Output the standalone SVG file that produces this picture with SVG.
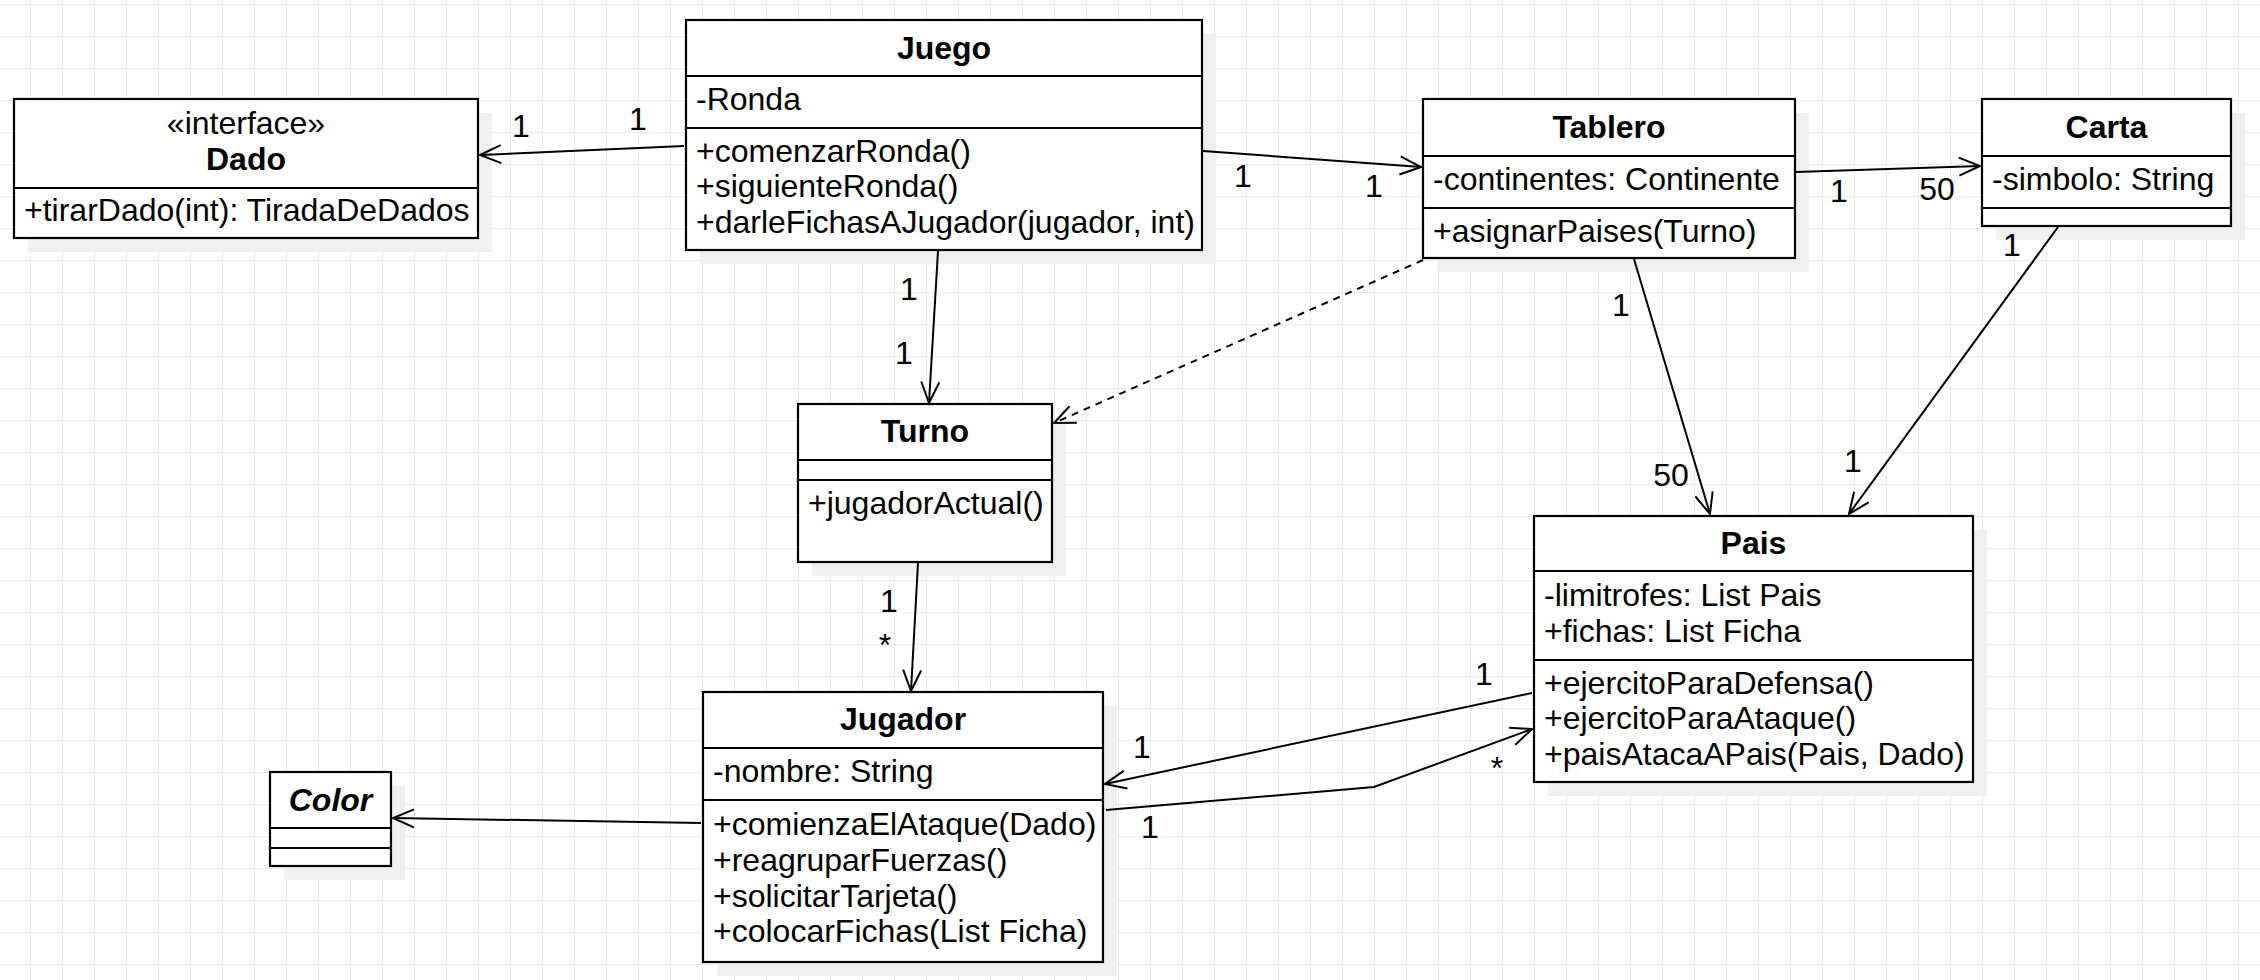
<svg xmlns="http://www.w3.org/2000/svg" width="2260" height="980" viewBox="0 0 2260 980">
<defs>
<pattern id="grid" patternUnits="userSpaceOnUse" x="30" y="4" width="32" height="32">
<path d="M0 0.5 H32 M0.5 0 V32" fill="none" stroke="#ebebeb" stroke-width="1"/>
</pattern>
<marker id="open" markerUnits="userSpaceOnUse" markerWidth="30" markerHeight="30" viewBox="-25 -15 30 30" refX="0" refY="0" orient="auto" overflow="visible">
<path d="M-21,-9 L0,0 L-21,9" fill="none" stroke="#000" stroke-width="2"/>
</marker>
</defs>
<style>
.t{font-family:"Liberation Sans",Arial,Helvetica,sans-serif;font-size:32px;fill:#000}
.b{font-weight:bold}
.i{font-style:italic}
.c{text-anchor:middle}
.box{fill:#fff;stroke:#000;stroke-width:2.2}
.sh{fill:#efefef;stroke:none}
.sep{stroke:#000;stroke-width:2.2}
.edge{fill:none;stroke:#000;stroke-width:2}
.dash{stroke-dasharray:7 6}
</style>
<rect x="0" y="0" width="2260" height="980" fill="#fff"/>
<rect x="0" y="0" width="2260" height="980" fill="url(#grid)"/>

<g id="Dado">
<rect class="sh" x="28" y="113" width="464" height="139"/>
<rect class="box" x="14" y="99" width="464" height="139"/>
<line class="sep" x1="14" y1="188" x2="478" y2="188"/>
<text class="t c" x="246" y="134">«interface»</text>
<text class="t b c" x="246" y="170">Dado</text>
<text class="t" x="24" y="221">+tirarDado(int): TiradaDeDados</text>
</g>

<g id="Juego">
<rect class="sh" x="700" y="34" width="516" height="230"/>
<rect class="box" x="686" y="20" width="516" height="230"/>
<line class="sep" x1="686" y1="76" x2="1202" y2="76"/>
<line class="sep" x1="686" y1="128" x2="1202" y2="128"/>
<text class="t b c" x="944" y="59">Juego</text>
<text class="t" x="696" y="110">-Ronda</text>
<text class="t" x="696" y="162">+comenzarRonda()</text>
<text class="t" x="696" y="197">+siguienteRonda()</text>
<text class="t" x="696" y="233">+darleFichasAJugador(jugador, int)</text>
</g>

<g id="Tablero">
<rect class="sh" x="1437" y="113" width="372" height="159"/>
<rect class="box" x="1423" y="99" width="372" height="159"/>
<line class="sep" x1="1423" y1="156" x2="1795" y2="156"/>
<line class="sep" x1="1423" y1="208" x2="1795" y2="208"/>
<text class="t b c" x="1609" y="138">Tablero</text>
<text class="t" x="1433" y="190">-continentes: Continente</text>
<text class="t" x="1433" y="242">+asignarPaises(Turno)</text>
</g>

<g id="Carta">
<rect class="sh" x="1996" y="113" width="249" height="127"/>
<rect class="box" x="1982" y="99" width="249" height="127"/>
<line class="sep" x1="1982" y1="156" x2="2231" y2="156"/>
<line class="sep" x1="1982" y1="208" x2="2231" y2="208"/>
<text class="t b c" x="2106.5" y="138">Carta</text>
<text class="t" x="1992" y="190">-simbolo: String</text>
</g>

<g id="Turno">
<rect class="sh" x="812" y="418" width="254" height="158"/>
<rect class="box" x="798" y="404" width="254" height="158"/>
<line class="sep" x1="798" y1="460" x2="1052" y2="460"/>
<line class="sep" x1="798" y1="480" x2="1052" y2="480"/>
<text class="t b c" x="925" y="442">Turno</text>
<text class="t" x="808" y="514">+jugadorActual()</text>
</g>

<g id="Pais">
<rect class="sh" x="1548" y="530" width="439" height="266"/>
<rect class="box" x="1534" y="516" width="439" height="266"/>
<line class="sep" x1="1534" y1="571" x2="1973" y2="571"/>
<line class="sep" x1="1534" y1="660" x2="1973" y2="660"/>
<text class="t b c" x="1753.5" y="554">Pais</text>
<text class="t" x="1544" y="606">-limitrofes: List Pais</text>
<text class="t" x="1544" y="642">+fichas: List Ficha</text>
<text class="t" x="1544" y="694">+ejercitoParaDefensa()</text>
<text class="t" x="1544" y="729">+ejercitoParaAtaque()</text>
<text class="t" x="1544" y="765">+paisAtacaAPais(Pais, Dado)</text>
</g>

<g id="Jugador">
<rect class="sh" x="717" y="706" width="400" height="270"/>
<rect class="box" x="703" y="692" width="400" height="270"/>
<line class="sep" x1="703" y1="748" x2="1103" y2="748"/>
<line class="sep" x1="703" y1="800" x2="1103" y2="800"/>
<text class="t b c" x="903" y="730">Jugador</text>
<text class="t" x="713" y="782">-nombre: String</text>
<text class="t" x="713" y="835">+comienzaElAtaque(Dado)</text>
<text class="t" x="713" y="871">+reagruparFuerzas()</text>
<text class="t" x="713" y="907">+solicitarTarjeta()</text>
<text class="t" x="713" y="942">+colocarFichas(List Ficha)</text>
</g>

<g id="Color">
<rect class="sh" x="284" y="786" width="121" height="94"/>
<rect class="box" x="270" y="772" width="121" height="94"/>
<line class="sep" x1="270" y1="828" x2="391" y2="828"/>
<line class="sep" x1="270" y1="848" x2="391" y2="848"/>
<text class="t b i c" x="330.5" y="811">Color</text>
</g>

<g id="connectors">
<path class="edge" d="M684 146 L480 155" marker-end="url(#open)"/>
<text class="t c" x="521" y="137">1</text>
<text class="t c" x="638" y="130">1</text>

<path class="edge" d="M1203 151 L1421 167" marker-end="url(#open)"/>
<text class="t c" x="1243" y="187">1</text>
<text class="t c" x="1374" y="197">1</text>

<path class="edge" d="M1796 172 L1980 166" marker-end="url(#open)"/>
<text class="t c" x="1839" y="202">1</text>
<text class="t c" x="1937" y="200">50</text>

<path class="edge" d="M938 251 L929 403" marker-end="url(#open)"/>
<text class="t c" x="909" y="300">1</text>
<text class="t c" x="904" y="364">1</text>

<path class="edge dash" d="M1423 260 L1054 423" marker-end="url(#open)"/>

<path class="edge" d="M918 563 L911 691" marker-end="url(#open)"/>
<text class="t c" x="889" y="612">1</text>
<text class="t c" x="885" y="656">*</text>

<path class="edge" d="M1634 259 L1710 514" marker-end="url(#open)"/>
<text class="t c" x="1621" y="316">1</text>
<text class="t c" x="1671" y="486">50</text>

<path class="edge" d="M2058 227 L1849 514" marker-end="url(#open)"/>
<text class="t c" x="2012" y="256">1</text>
<text class="t c" x="1853" y="472">1</text>

<path class="edge" d="M1532 693 L1105 784" marker-end="url(#open)"/>
<text class="t c" x="1484" y="685">1</text>
<text class="t c" x="1142" y="758">1</text>

<path class="edge" d="M1106 810 L1374 787 L1532 729" marker-end="url(#open)"/>
<text class="t c" x="1150" y="838">1</text>
<text class="t c" x="1497" y="779">*</text>

<path class="edge" d="M701 823 L393 818" marker-end="url(#open)"/>
</g>
</svg>
